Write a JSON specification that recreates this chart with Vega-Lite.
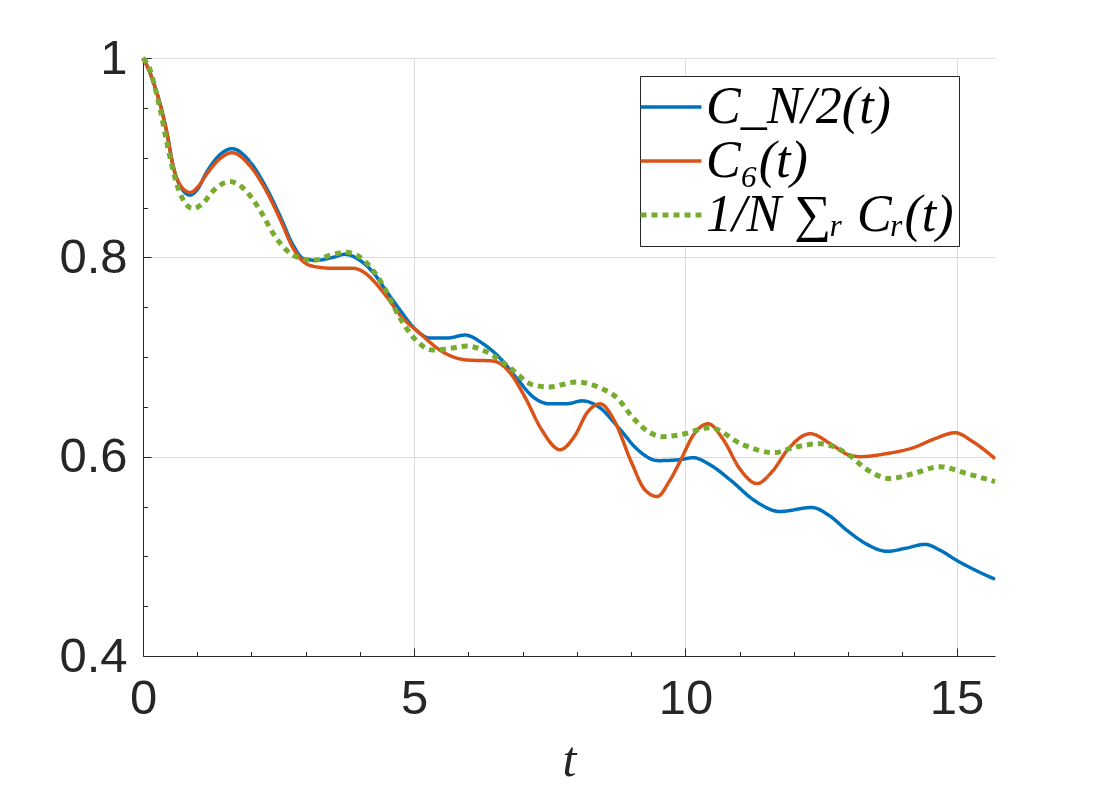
{
  "$schema": "https://vega.github.io/schema/vega-lite/v6.json",
  "autosize": {"type": "none"},
  "padding": {"left": 143, "top": 58, "right": 105, "bottom": 144},
  "width": 852,
  "height": 598,
  "background": "white",
  "config": {
    "view": {"stroke": null},
    "axis": {
      "labelFont": "Liberation Sans",
      "labelFontSize": 49,
      "labelColor": "#262626",
      "labelFlush": false,
      "domainColor": "#262626",
      "domainWidth": 1,
      "tickColor": "#262626",
      "tickWidth": 1,
      "gridColor": "#dcdcdc",
      "gridWidth": 1
    },
    "legend": {
      "title": null, "orient": "none", "legendX": 497, "legendY": 18,
      "fillColor": "white", "strokeColor": "#262626", "padding": 5,
      "symbolType": "stroke", "symbolSize": 3721, "symbolStrokeWidth": 3.5,
      "labelFont": "Liberation Serif", "labelFontStyle": "italic", "labelFontSize": 52, "labelColor": "black", "labelLimit": 600, "labelOffset": 9,
      "rowPadding": 2
    }
  },
  "data": {
    "values": [
      {"t": 0, "v": 1.0, "s": "C_N/2(t)"},
      {"t": 0.13, "v": 0.985, "s": "C_N/2(t)"},
      {"t": 0.22, "v": 0.971, "s": "C_N/2(t)"},
      {"t": 0.31, "v": 0.955, "s": "C_N/2(t)"},
      {"t": 0.44, "v": 0.925, "s": "C_N/2(t)"},
      {"t": 0.55, "v": 0.893, "s": "C_N/2(t)"},
      {"t": 0.68, "v": 0.872, "s": "C_N/2(t)"},
      {"t": 0.87, "v": 0.8625, "s": "C_N/2(t)"},
      {"t": 1.0, "v": 0.868, "s": "C_N/2(t)"},
      {"t": 1.18, "v": 0.886, "s": "C_N/2(t)"},
      {"t": 1.42, "v": 0.903, "s": "C_N/2(t)"},
      {"t": 1.64, "v": 0.909, "s": "C_N/2(t)"},
      {"t": 1.97, "v": 0.896, "s": "C_N/2(t)"},
      {"t": 2.28, "v": 0.869, "s": "C_N/2(t)"},
      {"t": 2.53, "v": 0.841, "s": "C_N/2(t)"},
      {"t": 2.77, "v": 0.812, "s": "C_N/2(t)"},
      {"t": 2.95, "v": 0.799, "s": "C_N/2(t)"},
      {"t": 3.2, "v": 0.797, "s": "C_N/2(t)"},
      {"t": 3.5, "v": 0.8, "s": "C_N/2(t)"},
      {"t": 3.72, "v": 0.803, "s": "C_N/2(t)"},
      {"t": 4.0, "v": 0.797, "s": "C_N/2(t)"},
      {"t": 4.24, "v": 0.785, "s": "C_N/2(t)"},
      {"t": 4.5, "v": 0.765, "s": "C_N/2(t)"},
      {"t": 4.74, "v": 0.747, "s": "C_N/2(t)"},
      {"t": 5.0, "v": 0.729, "s": "C_N/2(t)"},
      {"t": 5.29, "v": 0.719, "s": "C_N/2(t)"},
      {"t": 5.6, "v": 0.719, "s": "C_N/2(t)"},
      {"t": 5.94, "v": 0.722, "s": "C_N/2(t)"},
      {"t": 6.25, "v": 0.714, "s": "C_N/2(t)"},
      {"t": 6.58, "v": 0.699, "s": "C_N/2(t)"},
      {"t": 6.9, "v": 0.678, "s": "C_N/2(t)"},
      {"t": 7.19, "v": 0.66, "s": "C_N/2(t)"},
      {"t": 7.5, "v": 0.653, "s": "C_N/2(t)"},
      {"t": 7.8, "v": 0.653, "s": "C_N/2(t)"},
      {"t": 8.1, "v": 0.656, "s": "C_N/2(t)"},
      {"t": 8.4, "v": 0.65, "s": "C_N/2(t)"},
      {"t": 8.8, "v": 0.627, "s": "C_N/2(t)"},
      {"t": 9.1, "v": 0.608, "s": "C_N/2(t)"},
      {"t": 9.5, "v": 0.596, "s": "C_N/2(t)"},
      {"t": 9.9, "v": 0.597, "s": "C_N/2(t)"},
      {"t": 10.14, "v": 0.599, "s": "C_N/2(t)"},
      {"t": 10.45, "v": 0.592, "s": "C_N/2(t)"},
      {"t": 10.82, "v": 0.577, "s": "C_N/2(t)"},
      {"t": 11.3, "v": 0.555, "s": "C_N/2(t)"},
      {"t": 11.74, "v": 0.545, "s": "C_N/2(t)"},
      {"t": 12.33, "v": 0.549, "s": "C_N/2(t)"},
      {"t": 12.65, "v": 0.541, "s": "C_N/2(t)"},
      {"t": 12.98, "v": 0.526, "s": "C_N/2(t)"},
      {"t": 13.35, "v": 0.512, "s": "C_N/2(t)"},
      {"t": 13.72, "v": 0.505, "s": "C_N/2(t)"},
      {"t": 14.05, "v": 0.508, "s": "C_N/2(t)"},
      {"t": 14.42, "v": 0.512, "s": "C_N/2(t)"},
      {"t": 14.7, "v": 0.506, "s": "C_N/2(t)"},
      {"t": 15.0, "v": 0.496, "s": "C_N/2(t)"},
      {"t": 15.35, "v": 0.486, "s": "C_N/2(t)"},
      {"t": 15.708, "v": 0.477, "s": "C_N/2(t)"},

      {"t": 0, "v": 1.0, "s": "C₆(t)"},
      {"t": 0.13, "v": 0.985, "s": "C₆(t)"},
      {"t": 0.22, "v": 0.971, "s": "C₆(t)"},
      {"t": 0.31, "v": 0.955, "s": "C₆(t)"},
      {"t": 0.44, "v": 0.925, "s": "C₆(t)"},
      {"t": 0.55, "v": 0.893, "s": "C₆(t)"},
      {"t": 0.68, "v": 0.873, "s": "C₆(t)"},
      {"t": 0.87, "v": 0.865, "s": "C₆(t)"},
      {"t": 1.0, "v": 0.87, "s": "C₆(t)"},
      {"t": 1.18, "v": 0.884, "s": "C₆(t)"},
      {"t": 1.42, "v": 0.899, "s": "C₆(t)"},
      {"t": 1.64, "v": 0.905, "s": "C₆(t)"},
      {"t": 1.97, "v": 0.892, "s": "C₆(t)"},
      {"t": 2.28, "v": 0.866, "s": "C₆(t)"},
      {"t": 2.53, "v": 0.838, "s": "C₆(t)"},
      {"t": 2.77, "v": 0.809, "s": "C₆(t)"},
      {"t": 2.95, "v": 0.796, "s": "C₆(t)"},
      {"t": 3.14, "v": 0.791, "s": "C₆(t)"},
      {"t": 3.5, "v": 0.789, "s": "C₆(t)"},
      {"t": 3.87, "v": 0.789, "s": "C₆(t)"},
      {"t": 4.1, "v": 0.784, "s": "C₆(t)"},
      {"t": 4.24, "v": 0.777, "s": "C₆(t)"},
      {"t": 4.5, "v": 0.76, "s": "C₆(t)"},
      {"t": 4.74, "v": 0.742, "s": "C₆(t)"},
      {"t": 5.1, "v": 0.724, "s": "C₆(t)"},
      {"t": 5.53, "v": 0.705, "s": "C₆(t)"},
      {"t": 5.97, "v": 0.697, "s": "C₆(t)"},
      {"t": 6.45, "v": 0.696, "s": "C₆(t)"},
      {"t": 6.77, "v": 0.684, "s": "C₆(t)"},
      {"t": 7.04, "v": 0.66, "s": "C₆(t)"},
      {"t": 7.35, "v": 0.627, "s": "C₆(t)"},
      {"t": 7.69, "v": 0.607, "s": "C₆(t)"},
      {"t": 7.95, "v": 0.62, "s": "C₆(t)"},
      {"t": 8.2, "v": 0.645, "s": "C₆(t)"},
      {"t": 8.43, "v": 0.653, "s": "C₆(t)"},
      {"t": 8.7, "v": 0.635, "s": "C₆(t)"},
      {"t": 9.0, "v": 0.595, "s": "C₆(t)"},
      {"t": 9.25, "v": 0.567, "s": "C₆(t)"},
      {"t": 9.48, "v": 0.56, "s": "C₆(t)"},
      {"t": 9.7, "v": 0.575, "s": "C₆(t)"},
      {"t": 9.9, "v": 0.595, "s": "C₆(t)"},
      {"t": 10.15, "v": 0.622, "s": "C₆(t)"},
      {"t": 10.42, "v": 0.633, "s": "C₆(t)"},
      {"t": 10.7, "v": 0.617, "s": "C₆(t)"},
      {"t": 11.0, "v": 0.588, "s": "C₆(t)"},
      {"t": 11.32, "v": 0.573, "s": "C₆(t)"},
      {"t": 11.6, "v": 0.585, "s": "C₆(t)"},
      {"t": 11.9, "v": 0.608, "s": "C₆(t)"},
      {"t": 12.3, "v": 0.623, "s": "C₆(t)"},
      {"t": 12.7, "v": 0.612, "s": "C₆(t)"},
      {"t": 13.0, "v": 0.602, "s": "C₆(t)"},
      {"t": 13.22, "v": 0.6, "s": "C₆(t)"},
      {"t": 13.7, "v": 0.603, "s": "C₆(t)"},
      {"t": 14.2, "v": 0.609, "s": "C₆(t)"},
      {"t": 14.6, "v": 0.618, "s": "C₆(t)"},
      {"t": 14.97, "v": 0.624, "s": "C₆(t)"},
      {"t": 15.3, "v": 0.615, "s": "C₆(t)"},
      {"t": 15.708, "v": 0.598, "s": "C₆(t)"},

      {"t": 0, "v": 1.0, "s": "1/N ∑ᵣ Cᵣ(t)"},
      {"t": 0.13, "v": 0.988, "s": "1/N ∑ᵣ Cᵣ(t)"},
      {"t": 0.2, "v": 0.975, "s": "1/N ∑ᵣ Cᵣ(t)"},
      {"t": 0.31, "v": 0.95, "s": "1/N ∑ᵣ Cᵣ(t)"},
      {"t": 0.44, "v": 0.915, "s": "1/N ∑ᵣ Cᵣ(t)"},
      {"t": 0.55, "v": 0.888, "s": "1/N ∑ᵣ Cᵣ(t)"},
      {"t": 0.7, "v": 0.862, "s": "1/N ∑ᵣ Cᵣ(t)"},
      {"t": 0.92, "v": 0.849, "s": "1/N ∑ᵣ Cᵣ(t)"},
      {"t": 1.1, "v": 0.854, "s": "1/N ∑ᵣ Cᵣ(t)"},
      {"t": 1.3, "v": 0.867, "s": "1/N ∑ᵣ Cᵣ(t)"},
      {"t": 1.6, "v": 0.876, "s": "1/N ∑ᵣ Cᵣ(t)"},
      {"t": 1.91, "v": 0.866, "s": "1/N ∑ᵣ Cᵣ(t)"},
      {"t": 2.16, "v": 0.847, "s": "1/N ∑ᵣ Cᵣ(t)"},
      {"t": 2.4, "v": 0.824, "s": "1/N ∑ᵣ Cᵣ(t)"},
      {"t": 2.65, "v": 0.807, "s": "1/N ∑ᵣ Cᵣ(t)"},
      {"t": 2.9, "v": 0.799, "s": "1/N ∑ᵣ Cᵣ(t)"},
      {"t": 3.14, "v": 0.797, "s": "1/N ∑ᵣ Cᵣ(t)"},
      {"t": 3.5, "v": 0.803, "s": "1/N ∑ᵣ Cᵣ(t)"},
      {"t": 3.76, "v": 0.805, "s": "1/N ∑ᵣ Cᵣ(t)"},
      {"t": 4.13, "v": 0.794, "s": "1/N ∑ᵣ Cᵣ(t)"},
      {"t": 4.37, "v": 0.777, "s": "1/N ∑ᵣ Cᵣ(t)"},
      {"t": 4.74, "v": 0.739, "s": "1/N ∑ᵣ Cᵣ(t)"},
      {"t": 4.98, "v": 0.72, "s": "1/N ∑ᵣ Cᵣ(t)"},
      {"t": 5.35, "v": 0.707, "s": "1/N ∑ᵣ Cᵣ(t)"},
      {"t": 5.7, "v": 0.709, "s": "1/N ∑ᵣ Cᵣ(t)"},
      {"t": 5.97, "v": 0.711, "s": "1/N ∑ᵣ Cᵣ(t)"},
      {"t": 6.34, "v": 0.705, "s": "1/N ∑ᵣ Cᵣ(t)"},
      {"t": 6.77, "v": 0.689, "s": "1/N ∑ᵣ Cᵣ(t)"},
      {"t": 7.19, "v": 0.672, "s": "1/N ∑ᵣ Cᵣ(t)"},
      {"t": 7.5, "v": 0.67, "s": "1/N ∑ᵣ Cᵣ(t)"},
      {"t": 8.0, "v": 0.675, "s": "1/N ∑ᵣ Cᵣ(t)"},
      {"t": 8.43, "v": 0.669, "s": "1/N ∑ᵣ Cᵣ(t)"},
      {"t": 8.74, "v": 0.659, "s": "1/N ∑ᵣ Cᵣ(t)"},
      {"t": 9.05, "v": 0.638, "s": "1/N ∑ᵣ Cᵣ(t)"},
      {"t": 9.35, "v": 0.624, "s": "1/N ∑ᵣ Cᵣ(t)"},
      {"t": 9.59, "v": 0.62, "s": "1/N ∑ᵣ Cᵣ(t)"},
      {"t": 9.9, "v": 0.622, "s": "1/N ∑ᵣ Cᵣ(t)"},
      {"t": 10.45, "v": 0.629, "s": "1/N ∑ᵣ Cᵣ(t)"},
      {"t": 11.06, "v": 0.612, "s": "1/N ∑ᵣ Cᵣ(t)"},
      {"t": 11.62, "v": 0.604, "s": "1/N ∑ᵣ Cᵣ(t)"},
      {"t": 12.06, "v": 0.61, "s": "1/N ∑ᵣ Cᵣ(t)"},
      {"t": 12.48, "v": 0.613, "s": "1/N ∑ᵣ Cᵣ(t)"},
      {"t": 12.98, "v": 0.603, "s": "1/N ∑ᵣ Cᵣ(t)"},
      {"t": 13.35, "v": 0.587, "s": "1/N ∑ᵣ Cᵣ(t)"},
      {"t": 13.77, "v": 0.578, "s": "1/N ∑ᵣ Cᵣ(t)"},
      {"t": 14.2, "v": 0.583, "s": "1/N ∑ᵣ Cᵣ(t)"},
      {"t": 14.69, "v": 0.59, "s": "1/N ∑ᵣ Cᵣ(t)"},
      {"t": 15.19, "v": 0.583, "s": "1/N ∑ᵣ Cᵣ(t)"},
      {"t": 15.708, "v": 0.575, "s": "1/N ∑ᵣ Cᵣ(t)"}
    ]
  },
  "resolve": {"axis": {"x": "independent", "y": "independent"}},
  "layer": [
    {
      "mark": {"type": "point", "opacity": 0},
      "encoding": {
        "x": {
          "field": "t", "type": "quantitative",
          "scale": {"domain": [0, 15.708], "nice": false, "zero": false},
          "axis": {"orient": "bottom", "values": [1,2,3,4,6,7,8,9,11,12,13,14], "labels": false, "grid": false, "domain": false, "tickSize": -4.5, "title": null}
        },
        "y": {
          "field": "v", "type": "quantitative",
          "scale": {"domain": [0.4, 1], "nice": false, "zero": false},
          "axis": {"orient": "left", "values": [0.45,0.5,0.55,0.65,0.7,0.75,0.85,0.9,0.95], "labels": false, "grid": false, "domain": false, "tickSize": -4.5, "title": null}
        }
      }
    },
    {
      "transform": [{"filter": "datum.s !== '1/N ∑ᵣ Cᵣ(t)'"}],
      "mark": {"type": "line", "interpolate": "monotone", "strokeWidth": 3.5},
      "encoding": {
        "x": {
          "field": "t", "type": "quantitative",
          "axis": {"orient": "bottom", "values": [0,5,10,15], "grid": true, "tickSize": -8, "labelPadding": 26, "title": "t", "titleFont": "Liberation Serif", "titleFontStyle": "italic", "titleFontWeight": "normal", "titleFontSize": 50, "titleColor": "#262626", "titlePadding": 12}
        },
        "y": {
          "field": "v", "type": "quantitative",
          "axis": {"orient": "left", "values": [0.4,0.6,0.8,1], "format": "~g", "grid": true, "tickSize": -8, "labelPadding": 24, "title": null}
        },
        "color": {
          "field": "s", "type": "nominal",
          "scale": {"domain": ["C_N/2(t)", "C₆(t)", "1/N ∑ᵣ Cᵣ(t)"], "range": ["#0072BD", "#D95319", "#77AC30"]},
          "legend": {"encode": {"symbols": {"update": {"strokeWidth": {"signal": "datum.index === 2 ? 5 : 3.5"}}}}}
        },
        "strokeDash": {
          "field": "s", "type": "nominal",
          "scale": {"domain": ["C_N/2(t)", "C₆(t)", "1/N ∑ᵣ Cᵣ(t)"], "range": [[1, 0], [1, 0], [6, 5]]},
          "legend": {"encode": {"symbols": {"update": {"strokeWidth": {"signal": "datum.index === 2 ? 5 : 3.5"}}}}}
        }
      }
    },
    {
      "transform": [{"filter": "datum.s === '1/N ∑ᵣ Cᵣ(t)'"}],
      "mark": {"type": "line", "interpolate": "monotone", "strokeWidth": 5, "strokeCap": "butt"},
      "encoding": {
        "x": {"field": "t", "type": "quantitative", "axis": null},
        "y": {"field": "v", "type": "quantitative", "axis": null},
        "color": {"field": "s", "type": "nominal"},
        "strokeDash": {"field": "s", "type": "nominal"}
      }
    }
  ]
}
